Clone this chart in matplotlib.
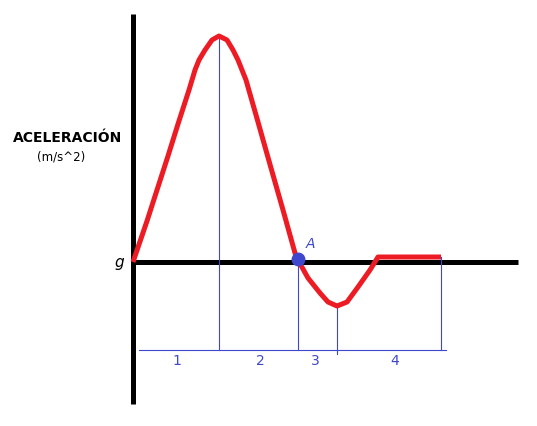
import matplotlib.pyplot as plt

# curve (pixel-like units, y grows downward)
curve_x = [133, 147, 157, 168, 178, 189, 195, 199, 205, 212, 219, 227, 233, 238, 242, 246, 258, 271, 283, 295,
           298, 308, 320, 328, 337, 347, 358, 370, 378, 441]
curve_y = [262, 221, 190, 156, 124, 90, 70, 60, 50, 40, 36, 40, 50, 60, 70, 80, 122, 168, 210, 253,
           260, 278, 293, 302, 306, 302, 287, 270, 257, 257]

point_A = (298, 259)
guide_x = [219, 298, 337, 441]
guide_top = [37, 259, 306, 257]
guide_bottom = [350, 350, 354, 350]
section_labels = ['1', '2', '3', '4']
section_x = [177, 260, 315, 395]

red = '#ed1c24'
blue = '#3f48cc'

fig = plt.figure(figsize=(5.37, 4.26), dpi=100)
ax = fig.add_axes([0, 0, 1, 1])
ax.set_xlim(0, 537)
ax.set_ylim(426, 0)
ax.axis('off')

# axes drawn by hand
ax.plot([133, 133], [14, 404], color='black', lw=3.6, solid_capstyle='butt')
ax.plot([131, 518], [262, 262], color='black', lw=3.6, solid_capstyle='butt')

# blue guide lines
for gx, gt, gb in zip(guide_x, guide_top, guide_bottom):
    ax.plot([gx, gx], [gt, gb], color=blue, lw=0.8)
ax.plot([139, 446], [350, 350], color=blue, lw=0.8)

ax.plot(curve_x, curve_y, color=red, lw=3.6, solid_joinstyle='round', solid_capstyle='butt')
ax.plot(*point_A, 'o', color=blue, ms=9)
ax.text(306, 244, 'A', color=blue, fontsize=10, style='italic', va='center')

for lab, sx in zip(section_labels, section_x):
    ax.text(sx, 361, lab, color=blue, fontsize=10, ha='center', va='center')

ax.text(68, 138, 'ACELERACIÓN', fontsize=10, fontweight='bold', ha='center', va='center')
ax.text(61, 157, '(m/s^2)', fontsize=8.5, ha='center', va='center')
ax.text(119, 262, 'g', fontsize=11, style='italic', ha='center', va='center')

fig.savefig('out.png', dpi=100)
